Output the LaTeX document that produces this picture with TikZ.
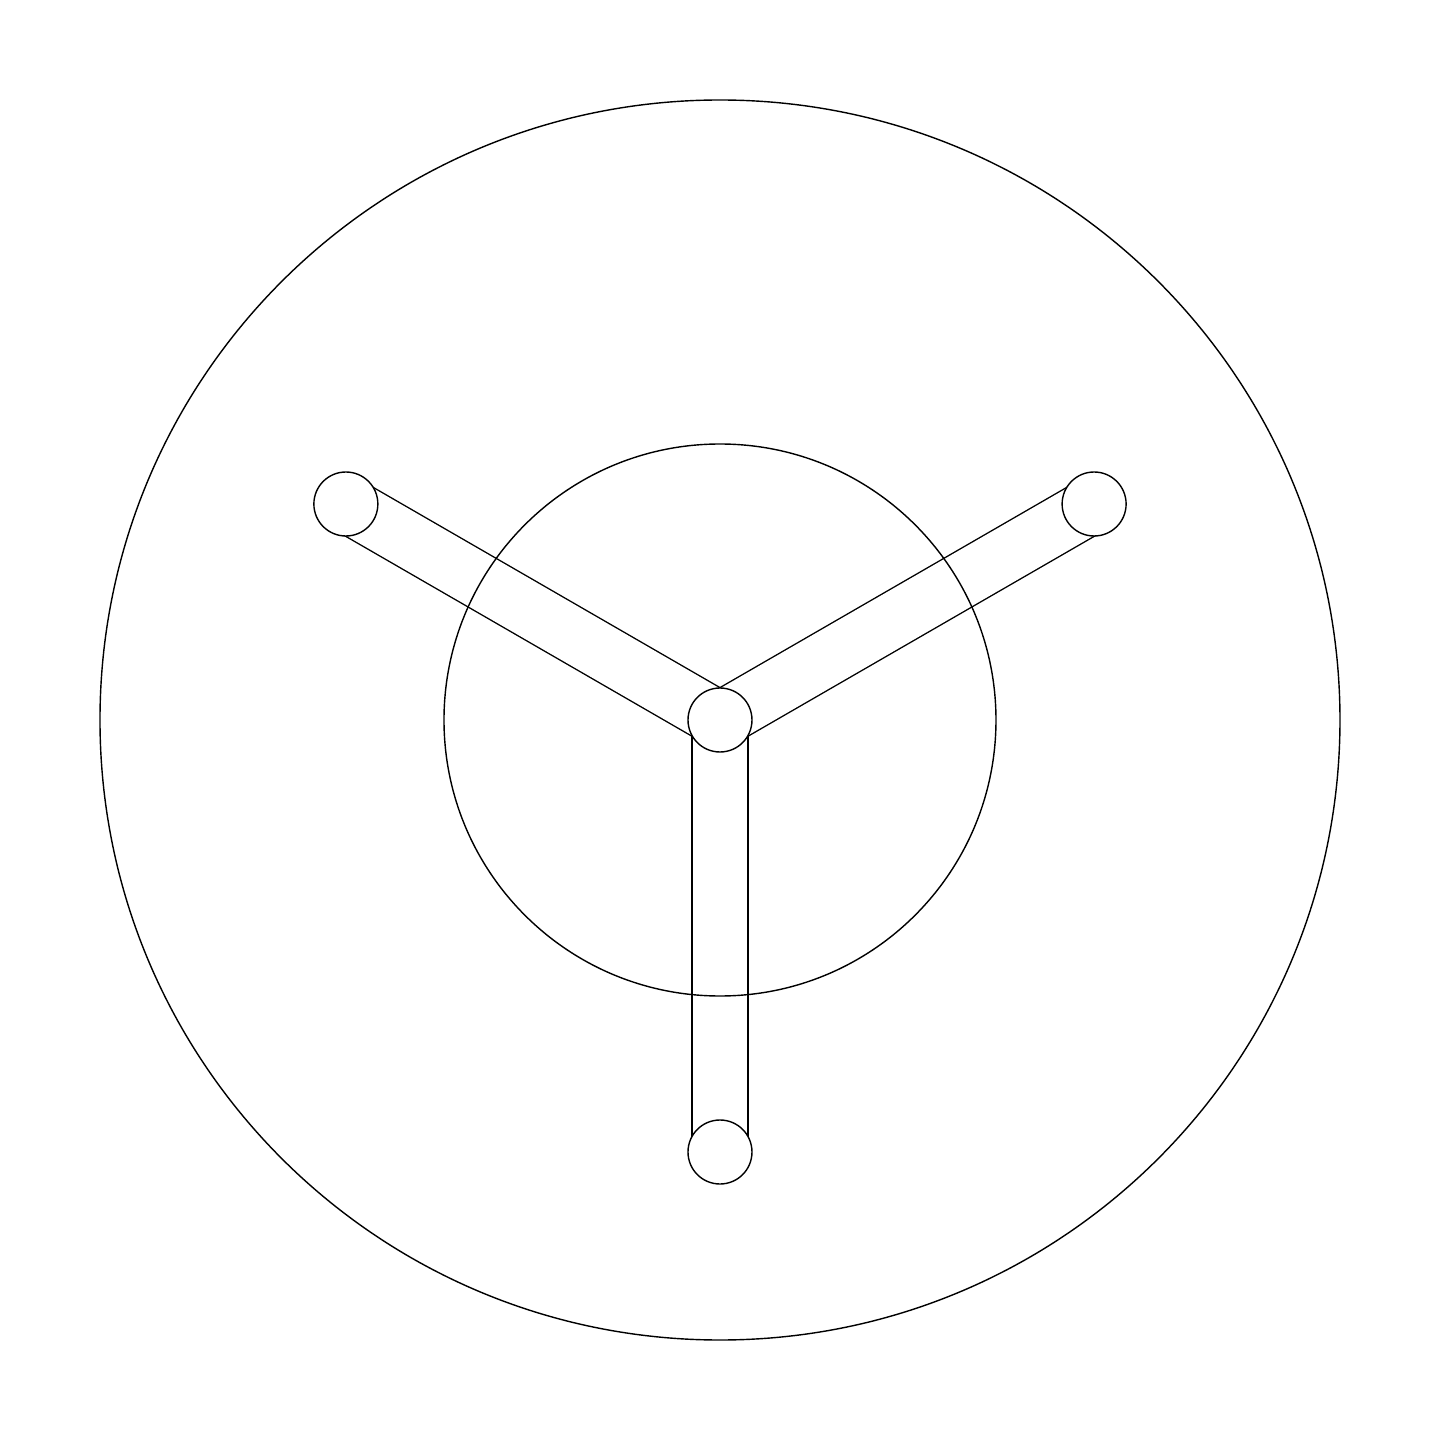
\documentclass[tikz,border=0pt]{standalone}
\usetikzlibrary{backgrounds}

\begin{document}
\begin{tikzpicture}
        \tikzset{joint/.style={draw, circle, fill=white, inner sep=0pt, minimum size=0.64cm}}
        \tikzset{arm/.style={double, double distance=0.56cm-0.4pt, line cap=butt}}
        \useasboundingbox (-7.2,-7.2) rectangle (7.2,7.2);
        % joints
        \node [joint] (hub) at (0,0) {};
        \node [joint] (left) at (150:4.32) {};
        \node [joint] (right) at (30:4.32) {};
        \node [joint] (bottom) at (270:4.32) {};
        \begin{pgfonlayer}{background}
        \draw (0,0) circle (6.2);
        \draw [arm] (hub.center) -- (left.center);
        \draw [arm] (hub.center) -- (right.center);
        \draw [arm] (hub.center) -- (bottom.center);
        \draw (0,0) circle (2.76);
        \end{pgfonlayer}
    \end{tikzpicture}
\end{document}
